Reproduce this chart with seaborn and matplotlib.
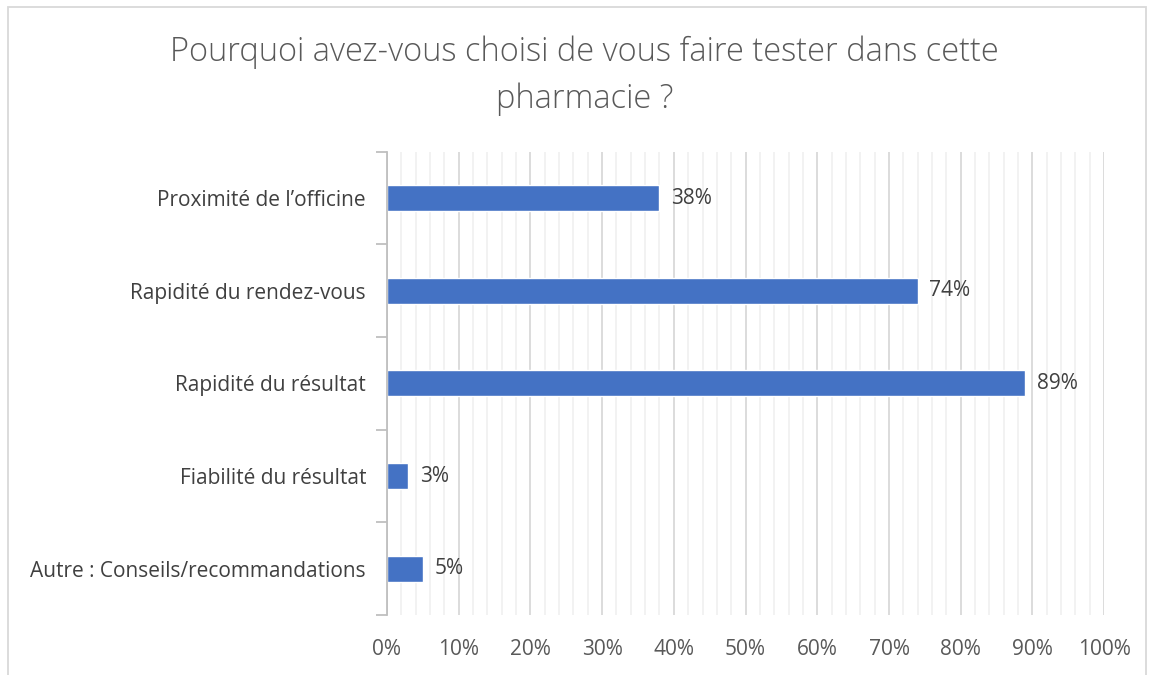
import matplotlib
matplotlib.use("Agg")
import matplotlib.pyplot as plt
import numpy as np
import pandas as pd
import seaborn as sns
from matplotlib.patches import Rectangle

# --------------------------------------------------------------------------- #
TITLE = "Pourquoi avez-vous choisi de vous faire tester dans cette\npharmacie ?"
CATEGORIES = [
    "Proximité de l’officine",
    "Rapidité du rendez-vous",
    "Rapidité du résultat",
    "Fiabilité du résultat",
    "Autre : Conseils/recommandations",
]
VALUES = [38, 74, 89, 3, 5]          # percent
X_TICKS = list(range(0, 101, 10))
BAR_COLOR = "#4472C4"
# --------------------------------------------------------------------------- #

sns.set_theme(style="white")
plt.rcParams["font.family"] = ["Open Sans", "DejaVu Sans"]

df = pd.DataFrame({"cat": CATEGORIES, "val": VALUES})

fig = plt.figure(figsize=(11.55, 6.75), dpi=100)
ax = fig.add_axes([0.335, 0.089, 0.621, 0.686])

# minor + major vertical gridlines
for x in np.arange(0, 101, 2):
    major = x % 10 == 0
    ax.axvline(x, color="#d9d9d9" if major else "#efefef",
               lw=1.3 if major else 1.1, zorder=0)

sns.barplot(data=df, x="val", y="cat", color=BAR_COLOR, width=0.28,
            saturation=1, ax=ax, zorder=2)

for i, v in enumerate(VALUES):
    ax.text(v + 1.6, i, f"{v}%", va="center", ha="left",
            fontsize=15, color="#404040")

ax.set_xlim(0, 100)
ax.set_ylim(len(CATEGORIES) - 0.5, -0.5)
ax.set_xticks(X_TICKS)
ax.set_xticklabels([f"{t}%" for t in X_TICKS], fontsize=15, color="#595959")
ax.tick_params(axis="x", length=0, pad=17)

# category labels, tick marks on boundaries
ax.set_yticks(range(len(CATEGORIES)))
ax.set_yticklabels(CATEGORIES, fontsize=15, color="#404040")
ax.tick_params(axis="y", which="major", left=True, length=0, pad=15)
ax.set_yticks(np.arange(-0.5, len(CATEGORIES), 1), minor=True)
ax.tick_params(axis="y", which="minor", left=True, length=8,
               color="#bfbfbf", width=1.3)

ax.set_xlabel("")
ax.set_ylabel("")
for s in ["top", "right", "bottom"]:
    ax.spines[s].set_visible(False)
ax.spines["left"].set_color("#bfbfbf")
ax.spines["left"].set_linewidth(1.3)

fig.text(0.506, 0.947, TITLE, ha="center", va="top", fontsize=23.5,
         color="#595959", fontweight="light", linespacing=1.52)

# chart area border
fig.patches.append(Rectangle((8 / 1155, -0.01), 1138 / 1155, 1 - 7 / 675 + 0.01,
                             transform=fig.transFigure, fill=False,
                             edgecolor="#d9d9d9", lw=1.3))

fig.savefig("out.png", dpi=100)
